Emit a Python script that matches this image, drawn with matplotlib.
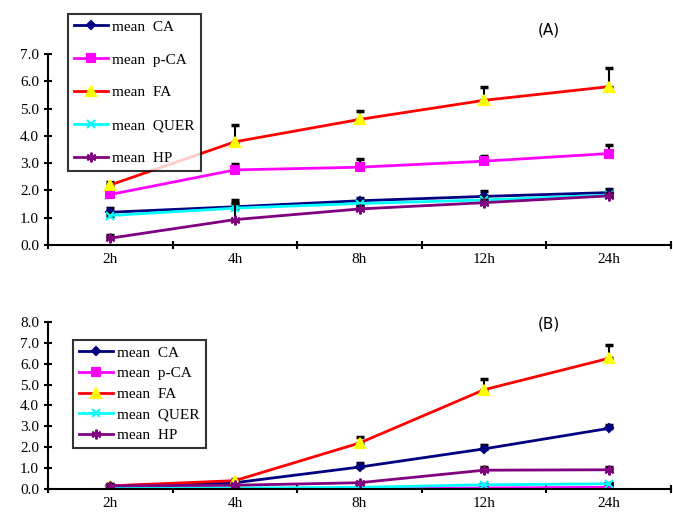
import matplotlib
matplotlib.use("Agg")
import matplotlib.pyplot as plt
import numpy as np

times = ["2h", "4h", "8h", "12h", "24h"]
names = ["mean  CA", "mean  p-CA", "mean  FA", "mean  QUER", "mean  HP"]

a_ca = [1.20, 1.40, 1.62, 1.78, 1.92]
a_pca = [1.85, 2.75, 2.85, 3.07, 3.35]
a_fa = [2.20, 3.78, 4.60, 5.30, 5.80]
a_quer = [1.08, 1.35, 1.52, 1.65, 1.83]
a_hp = [0.25, 0.93, 1.32, 1.55, 1.80]
a_ca_err = [0.15, 0.25, 0.10, 0.20, 0.12]
a_pca_err = [0.15, 0.20, 0.30, 0.18, 0.30]
a_fa_err = [0.10, 0.60, 0.30, 0.50, 0.70]
a_quer_err = [0.10, 0.15, 0.10, 0.10, 0.10]
a_hp_err = [0.10, 0.60, 0.10, 0.10, 0.10]

b_ca = [0.15, 0.30, 1.05, 1.92, 2.90]
b_pca = [0.00, 0.00, 0.00, 0.05, 0.08]
b_fa = [0.15, 0.40, 2.20, 4.75, 6.25]
b_quer = [0.05, 0.05, 0.08, 0.20, 0.25]
b_hp = [0.15, 0.18, 0.30, 0.90, 0.92]
b_ca_err = [0.10, 0.10, 0.20, 0.20, 0.15]
b_pca_err = [0.02, 0.02, 0.02, 0.02, 0.02]
b_fa_err = [0.05, 0.10, 0.30, 0.50, 0.65]
b_quer_err = [0.02, 0.02, 0.02, 0.05, 0.05]
b_hp_err = [0.10, 0.05, 0.05, 0.15, 0.15]

styles = [
    dict(color="#000080", marker="D", mfc="#000080", mec="#000080", ms=4),
    dict(color="#FF00FF", marker="s", mfc="#FF00FF", mec="#FF00FF", ms=6),
    dict(color="#FF0000", marker="^", mfc="#FFFF00", mec="#FFFF00", ms=7),
    dict(color="#00FFFF", marker="x", mfc="#00FFFF", mec="#00FFFF", ms=6),
    dict(color="#800080", marker=(6, 2, 0), mfc="#800080", mec="#800080", ms=7),
]

plt.rcParams["font.family"] = ["Liberation Serif"]
fig = plt.figure(figsize=(6.73, 5.12), dpi=100)
W, H = 673, 512


def panel(top_px, zero_px, unit_px, ymax, series, errs, label, leg_pos, spacing):
    ax = fig.add_axes([48 / W, 1 - zero_px / H, 623 / W, (zero_px - top_px) / H])
    x = np.arange(len(times)) + 0.5
    lines = []
    for vals, err, name, st in zip(series, errs, names, styles):
        ax.errorbar(x, vals, yerr=[np.zeros(len(err)), err], fmt="none",
                    ecolor="black", elinewidth=1.5, capsize=3, capthick=2.5)
        ln, = ax.plot(x, vals, lw=2, label=name, mew=1.5, **st)
        lines.append(ln)
    ax.set_xlim(0, 5)
    ax.set_ylim(0, (zero_px - top_px) / unit_px)
    yt = np.arange(0, ymax + 0.01, 1.0)
    ax.set_yticks(yt)
    ax.set_yticklabels([f"{v:.1f}" for v in yt], fontsize=11)
    ax.spines["left"].set_bounds(0, ymax)
    ax.spines["top"].set_visible(False)
    ax.spines["right"].set_visible(False)
    ax.spines["left"].set_linewidth(1.5)
    ax.spines["bottom"].set_linewidth(1.5)
    ax.set_xticks(np.arange(0, 6))
    ax.set_xticklabels([""] * 6)
    ax.tick_params(axis="x", length=6, width=1.5, direction="inout")
    ax.tick_params(axis="y", length=6, width=1.5, direction="inout")
    for xi, t in zip(x, times):
        ax.text(xi, -8 / unit_px, t, ha="center", va="top",
                fontsize=11, clip_on=False)
    ax.set_facecolor("none")
    fig.text(549 / W, 1 - label[1] / H, label[0], fontsize=11, family="DejaVu Sans",
             ha="center", va="center")
    leg = fig.legend(handles=lines, loc="upper left",
                     bbox_to_anchor=(leg_pos[0] / W, 1 - leg_pos[1] / H), fontsize=11,
                     frameon=True, fancybox=False, edgecolor="black",
                     handlelength=2.2, handletextpad=0.3, borderaxespad=0,
                     labelspacing=spacing)
    leg.get_frame().set_linewidth(1.5)
    return ax


panel(0, 245, 27.3, 7.0, [a_ca, a_pca, a_fa, a_quer, a_hp],
      [a_ca_err, a_pca_err, a_fa_err, a_quer_err, a_hp_err],
      ("(A)", 30), (68, 14), 1.25)
panel(300, 489, 20.9, 8.0, [b_ca, b_pca, b_fa, b_quer, b_hp],
      [b_ca_err, b_pca_err, b_fa_err, b_quer_err, b_hp_err],
      ("(B)", 324), (73, 340), 0.45)

fig.savefig("out.png", dpi=100)
